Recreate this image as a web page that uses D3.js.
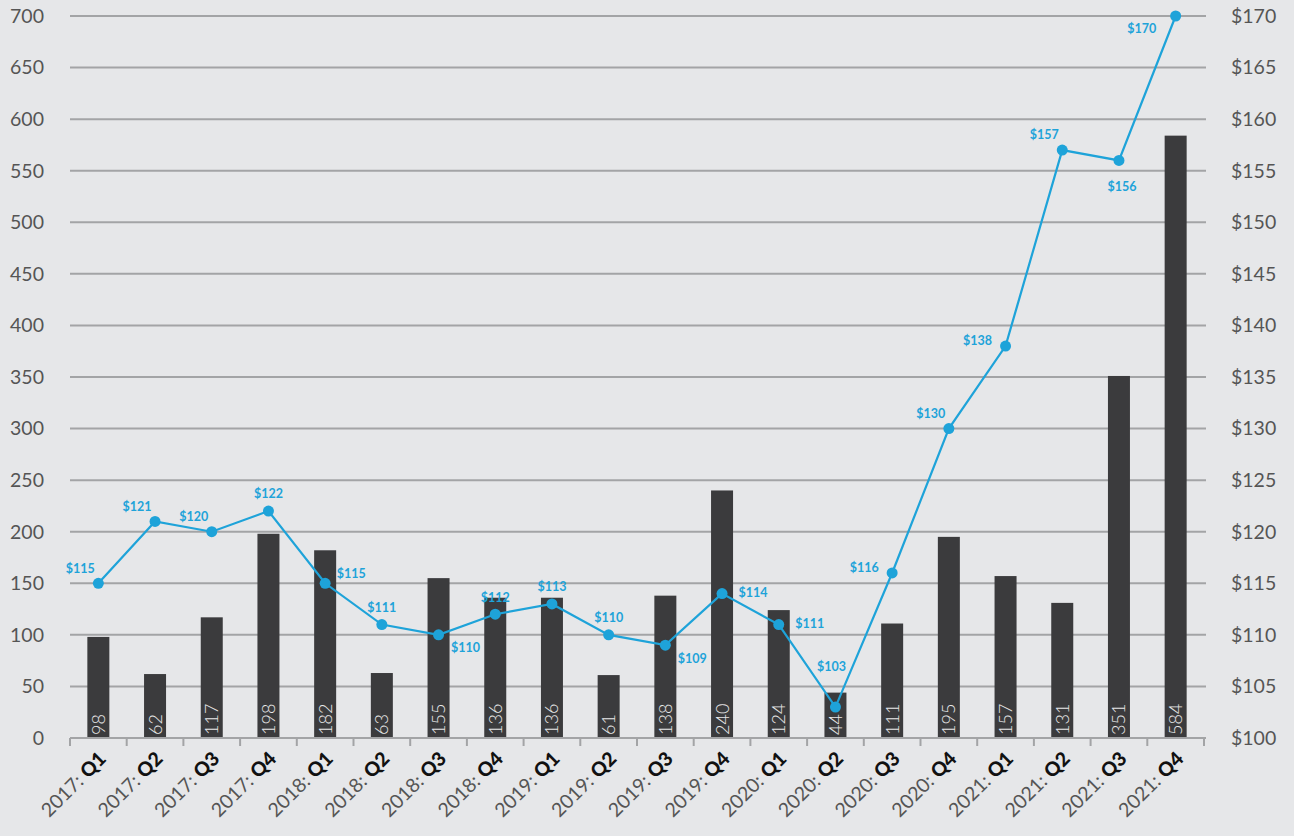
<!DOCTYPE html>
<html><head><meta charset="utf-8">
<script src="https://cdn.jsdelivr.net/npm/d3@7/dist/d3.min.js"></script>
<style>
html,body{margin:0;padding:0;background:#e6e7e9;}
svg{display:block;font-family:Lato,"Open Sans",sans-serif;}
</style></head><body>
<svg id="chart" width="1294" height="836"></svg>
<script>
const years = ["2017","2017","2017","2017","2018","2018","2018","2018","2019","2019","2019","2019","2020","2020","2020","2020","2021","2021","2021","2021"];
const quarters = ["Q1","Q2","Q3","Q4","Q1","Q2","Q3","Q4","Q1","Q2","Q3","Q4","Q1","Q2","Q3","Q4","Q1","Q2","Q3","Q4"];
const counts = [98,62,117,198,182,63,155,136,136,61,138,240,124,44,111,195,157,131,351,584];
const prices = [115,121,120,122,115,111,110,112,113,110,109,114,111,103,116,130,138,157,156,170];
const priceLabelSide = ["aboveLeft","aboveLeft","aboveLeft","above","aboveRight","above","belowRight","above","above","above","belowRight","right","right","farAbove","left","aboveLeft","left","aboveLeft","below","belowLeft"];
const leftTicks = [0,50,100,150,200,250,300,350,400,450,500,550,600,650,700];
const rightTicks = [100,105,110,115,120,125,130,135,140,145,150,155,160,165,170];

const sideOffsets = {
  above:[0,-17], aboveLeft:[-18,-15], aboveRight:[26,-10], left:[-28,-5], right:[31,-1],
  below:[3,26], belowRight:[27,13], belowLeft:[-34,13], farAbove:[-4,-40]
};

const svg = d3.select("#chart");
const X0 = 70, X1 = 1204, Y0 = 738, Y1 = 16;
const cats = d3.range(counts.length);
const x = d3.scaleBand().domain(cats).range([X0, X1]).paddingInner(0).paddingOuter(0);
const yL = d3.scaleLinear().domain([0,700]).range([Y0, Y1]);
const yR = d3.scaleLinear().domain([100,170]).range([Y0, Y1]);

// gridlines
svg.append("g").selectAll("line").data(leftTicks.filter(d=>d>0)).join("line")
  .attr("x1", X0).attr("x2", X1+2).attr("y1", d=>yL(d)).attr("y2", d=>yL(d))
  .attr("stroke", "#a3a4a6").attr("stroke-width", 2);

// left axis labels
svg.append("g").selectAll("text").data(leftTicks).join("text")
  .attr("x", 44).attr("y", d=>yL(d)).attr("dy","0.35em").attr("text-anchor","end")
  .attr("fill","#555").attr("font-size",19.5).text(d=>d);

// right axis labels
svg.append("g").selectAll("text").data(rightTicks).join("text")
  .attr("x", 1231).attr("y", d=>yR(d)).attr("dy","0.35em").attr("text-anchor","start")
  .attr("fill","#555").attr("font-size",19.5).text(d=>"$"+d);

// bars
const bw = 22;
svg.append("g").selectAll("rect").data(counts).join("rect")
  .attr("x", (d,i)=>x(i)+x.bandwidth()/2-bw/2).attr("width", bw)
  .attr("y", d=>yL(d)).attr("height", d=>Y0-yL(d)).attr("fill","#3b3b3d");

// bar labels
svg.append("g").selectAll("text").data(counts).join("text")
  .attr("transform",(d,i)=>`translate(${x(i)+x.bandwidth()/2},${Y0-3}) rotate(-90)`)
  .attr("dy","0.36em").attr("text-anchor","start")
  .attr("fill","#e8e8e8").attr("font-size",18).attr("font-weight",300).text(d=>d);

// x axis line + ticks
const ax = svg.append("g");
ax.append("line").attr("x1",X0).attr("x2",X1+2).attr("y1",Y0).attr("y2",Y0).attr("stroke","#a3a4a6").attr("stroke-width",2);
ax.selectAll("line.t").data(d3.range(counts.length+1)).join("line").attr("class","t")
  .attr("x1",i=>X0+i*x.step()).attr("x2",i=>X0+i*x.step())
  .attr("y1",Y0).attr("y2",Y0+8).attr("stroke","#a3a4a6").attr("stroke-width",2);

// x labels
const xl = svg.append("g").selectAll("text").data(cats).join("text")
  .attr("transform", i=>`translate(${x(i)+x.bandwidth()/2+9},${Y0+22}) rotate(-45)`)
  .attr("text-anchor","end").attr("font-size",19.5);
xl.append("tspan").attr("fill","#555").text(i=>years[i]+": ");
xl.append("tspan").attr("fill","#111").attr("font-weight",900).text(i=>quarters[i]);

// price line
const blue = "#1ea3d9";
const line = d3.line().x((d,i)=>x(i)+x.bandwidth()/2).y(d=>yR(d));
svg.append("path").datum(prices).attr("d", line).attr("fill","none").attr("stroke",blue).attr("stroke-width",2.2);
svg.append("g").selectAll("circle").data(prices).join("circle")
  .attr("cx",(d,i)=>x(i)+x.bandwidth()/2).attr("cy",d=>yR(d)).attr("r",5.5).attr("fill",blue);
svg.append("g").selectAll("text").data(prices).join("text")
  .attr("x",(d,i)=>x(i)+x.bandwidth()/2+sideOffsets[priceLabelSide[i]][0])
  .attr("y",(d,i)=>yR(d)+sideOffsets[priceLabelSide[i]][1])
  .attr("dy","0.35em").attr("text-anchor","middle")
  .attr("fill",blue).attr("font-size",12.5).attr("font-weight",700).text(d=>"$"+d);
</script>
</body></html>
